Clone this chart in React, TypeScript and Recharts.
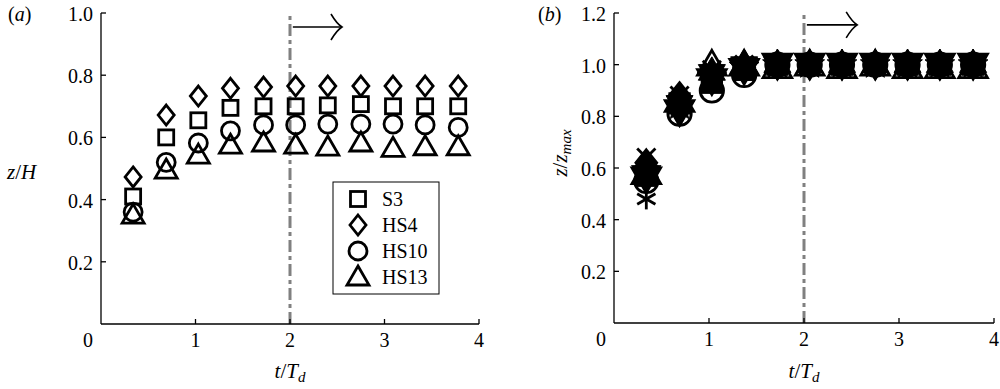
import React from 'react';
import { ScatterChart, Scatter, XAxis, YAxis, ReferenceLine } from 'recharts';

// ---------- data ----------
const tValues = [0.34, 0.69, 1.03, 1.37, 1.72, 2.06, 2.4, 2.75, 3.09, 3.43, 3.78];
const xTicks = [0, 1, 2, 3, 4];
const yTicksA = [0, 0.2, 0.4, 0.6, 0.8, 1.0];
const yTicksB = [0, 0.2, 0.4, 0.6, 0.8, 1.0, 1.2];

const namesA = ['S3', 'HS4', 'HS10', 'HS13'];
const shapesA = ['square', 'diamond', 'circle', 'triangle'];
const s3A = [0.41, 0.6, 0.655, 0.695, 0.7, 0.7, 0.703, 0.707, 0.7, 0.7, 0.7];
const hs4A = [0.473, 0.672, 0.733, 0.758, 0.762, 0.765, 0.765, 0.765, 0.765, 0.765, 0.765];
const hs10A = [0.36, 0.52, 0.582, 0.621, 0.64, 0.64, 0.643, 0.643, 0.643, 0.64, 0.632];
const hs13A = [0.35, 0.495, 0.543, 0.575, 0.582, 0.575, 0.569, 0.582, 0.565, 0.57, 0.57];
const valuesA = [s3A, hs4A, hs10A, hs13A];

const shapesB = ['square', 'diamond', 'circle', 'triangle', 'triangleDown', 'pentagram', 'hexagram', 'cross', 'asterisk'];
const filledB = [true, true, false, false, true, true, true, false, false];
const b1 = [0.57, 0.85, 0.93, 0.98, 1.0, 1.0, 1.0, 1.0, 1.0, 1.0, 1.0];
const b2 = [0.62, 0.88, 0.96, 0.99, 1.0, 1.0, 1.0, 1.0, 1.0, 1.0, 1.0];
const b3 = [0.55, 0.81, 0.9, 0.96, 1.0, 1.0, 1.0, 1.0, 1.0, 1.0, 1.0];
const b4 = [0.58, 0.86, 1.0, 1.0, 0.99, 1.0, 0.99, 1.0, 0.99, 0.99, 0.99];
const b5 = [0.56, 0.82, 0.94, 0.98, 1.0, 1.0, 1.0, 1.0, 1.0, 1.0, 1.0];
const b6 = [0.59, 0.84, 0.95, 0.99, 1.0, 1.0, 1.0, 1.0, 1.0, 1.0, 1.0];
const b7 = [0.57, 0.85, 0.97, 1.0, 1.0, 1.0, 1.0, 1.0, 1.0, 1.0, 1.0];
const b8 = [0.64, 0.88, 0.98, 1.0, 1.0, 1.0, 1.0, 1.0, 1.0, 1.0, 1.0];
const b9 = [0.48, 0.83, 0.95, 0.99, 1.0, 1.0, 1.0, 1.0, 1.0, 1.0, 1.0];
const valuesB = [b1, b2, b3, b4, b5, b6, b7, b8, b9];

const arrowA = [{ x: 2.03, y: 0.955 }, { x: 2.55, y: 0.955 }];
const arrowB = [{ x: 2.03, y: 1.154 }, { x: 2.56, y: 1.154 }];

// ---------- style ----------
const FONT = "'Times New Roman', 'Liberation Serif', Times, serif";
const FS = 20;
const tStyle = { fontFamily: FONT };

const toData = (arr: number[]) => tValues.map((t, i) => ({ t, v: arr[i] }));

function starPoints(cx: number, cy: number, n: number, R: number, r: number) {
  const pts: string[] = [];
  for (let i = 0; i < 2 * n; i++) {
    const ang = -Math.PI / 2 + (i * Math.PI) / n;
    const rad = i % 2 === 0 ? R : r;
    pts.push(`${cx + rad * Math.cos(ang)},${cy + rad * Math.sin(ang)}`);
  }
  return pts.join(' ');
}

function Marker({ shape, cx, cy, filled, k = 1 }: any) {
  const common = { stroke: '#000', strokeWidth: 2.8, fill: filled ? '#000' : 'none' };
  switch (shape) {
    case 'square':
      return <rect x={cx - 7.5 * k} y={cy - 7.5 * k} width={15 * k} height={15 * k} {...common} />;
    case 'diamond':
      return <polygon points={`${cx},${cy - 10 * k} ${cx + 8 * k},${cy} ${cx},${cy + 10 * k} ${cx - 8 * k},${cy}`} {...common} />;
    case 'circle':
      return <circle cx={cx} cy={cy} r={9 * k} {...common} />;
    case 'triangle':
      return <polygon points={`${cx},${cy - 11 * k} ${cx + 11 * k},${cy + 8 * k} ${cx - 11 * k},${cy + 8 * k}`} {...common} />;
    case 'triangleDown':
      return <polygon points={`${cx},${cy + 11 * k} ${cx + 11 * k},${cy - 8 * k} ${cx - 11 * k},${cy - 8 * k}`} {...common} />;
    case 'pentagram':
      return <polygon points={starPoints(cx, cy, 5, 12 * k, 5 * k)} {...common} strokeWidth={1} />;
    case 'hexagram':
      return <polygon points={starPoints(cx, cy, 6, 12 * k, 7 * k)} {...common} strokeWidth={1} />;
    case 'cross':
      return (
        <g stroke="#000" strokeWidth={2.8}>
          <line x1={cx - 7 * k} y1={cy - 7 * k} x2={cx + 7 * k} y2={cy + 7 * k} />
          <line x1={cx - 7 * k} y1={cy + 7 * k} x2={cx + 7 * k} y2={cy - 7 * k} />
        </g>
      );
    case 'asterisk':
      return (
        <g stroke="#000" strokeWidth={2.8}>
          <line x1={cx} y1={cy - 8 * k} x2={cx} y2={cy + 8 * k} />
          <line x1={cx - 7 * k} y1={cy - 4 * k} x2={cx + 7 * k} y2={cy + 4 * k} />
          <line x1={cx - 7 * k} y1={cy + 4 * k} x2={cx + 7 * k} y2={cy - 4 * k} />
        </g>
      );
    default:
      return null;
  }
}

const XTick = (props: any) => {
  const { x, y, payload } = props;
  const v = payload.value;
  return (
    <g>
      {v !== 0 && <line x1={x} y1={y} x2={x} y2={y - 5} stroke="#000" strokeWidth={1.3} />}
      <text x={v === 0 ? x - 13 : x} y={y + 23} textAnchor="middle" style={tStyle} fontSize={FS} fill="#000">
        {v}
      </text>
    </g>
  );
};

const YTick = (props: any) => {
  const { x, y, payload } = props;
  const v = payload.value;
  if (v === 0) return <g />;
  return (
    <g>
      <line x1={x} y1={y} x2={x + 5} y2={y} stroke="#000" strokeWidth={1.3} />
      <text x={x - 8} y={y + 8} textAnchor="end" style={tStyle} fontSize={FS} fill="#000">
        {v.toFixed(1)}
      </text>
    </g>
  );
};

const ArrowShape = (props: any) => {
  const { x1, y1, x2 } = props;
  const y = y1;
  return (
    <g fill="none" stroke="#000" strokeWidth={1.6}>
      <line x1={x1} y1={y} x2={x2} y2={y} />
      <path d={`M ${x2 - 11} ${y - 13} Q ${x2 - 5} ${y - 3} ${x2} ${y} Q ${x2 - 5} ${y + 3} ${x2 - 11} ${y + 13}`} />
    </g>
  );
};

const axisLineStyle = { stroke: '#000', strokeWidth: 1.3 };
const Y_W = 40;
const X_H = 30;

export default function App() {
  return (
    <div style={{ position: 'absolute', left: 0, top: 0, width: 1000, height: 389, background: '#fff' }}>
      <div style={{ position: 'absolute', left: 0, top: 0 }}>
        <ScatterChart width={500} height={389} margin={{ top: 13, right: 21, bottom: 65 - X_H, left: 101 - Y_W }}>
          <XAxis type="number" dataKey="t" domain={[0, 4]} ticks={xTicks} height={X_H} tickSize={0} tickMargin={0}
            tick={XTick} tickLine={false} axisLine={axisLineStyle} allowDataOverflow interval={0} />
          <YAxis type="number" dataKey="v" domain={[0, 1]} ticks={yTicksA} width={Y_W} tickSize={0} tickMargin={0}
            tick={YTick} tickLine={false} axisLine={axisLineStyle} allowDataOverflow interval={0} />
          <ReferenceLine x={2} stroke="#808080" strokeWidth={3} strokeDasharray="12 4 4 4" />
          <ReferenceLine segment={arrowA} shape={ArrowShape} />
          {valuesA.map((arr, i) => (
            <Scatter key={namesA[i]} name={namesA[i]} data={toData(arr)} isAnimationActive={false}
              shape={(p: any) => <Marker shape={shapesA[i]} cx={p.cx} cy={p.cy} filled={false} />} />
          ))}
        </ScatterChart>
      </div>
      <div style={{ position: 'absolute', left: 500, top: 0 }}>
        <ScatterChart width={500} height={389} margin={{ top: 13, right: 6, bottom: 66 - X_H, left: 114 - Y_W }}>
          <XAxis type="number" dataKey="t" domain={[0, 4]} ticks={xTicks} height={X_H} tickSize={0} tickMargin={0}
            tick={XTick} tickLine={false} axisLine={axisLineStyle} allowDataOverflow interval={0} />
          <YAxis type="number" dataKey="v" domain={[0, 1.2]} ticks={yTicksB} width={Y_W} tickSize={0} tickMargin={0}
            tick={YTick} tickLine={false} axisLine={axisLineStyle} allowDataOverflow interval={0} />
          <ReferenceLine x={2} stroke="#808080" strokeWidth={3} strokeDasharray="12 4 4 4" />
          <ReferenceLine segment={arrowB} shape={ArrowShape} />
          {valuesB.map((arr, i) => (
            <Scatter key={shapesB[i]} name={shapesB[i]} data={toData(arr)} isAnimationActive={false}
              shape={(p: any) => <Marker shape={shapesB[i]} cx={p.cx} cy={p.cy} filled={filledB[i]} k={1.3} />} />
          ))}
        </ScatterChart>
      </div>
      <svg width={1000} height={389} style={{ position: 'absolute', left: 0, top: 0, pointerEvents: 'none', fontFamily: FONT }}
        fill="#000">
        <text x={8} y={21} fontSize={FS} style={tStyle}>(<tspan fontStyle="italic">a</tspan>)</text>
        <text x={538} y={21} fontSize={FS} style={tStyle}>(<tspan fontStyle="italic">b</tspan>)</text>
        <text x={7} y={179} fontSize={21} style={tStyle}><tspan fontStyle="italic">z</tspan>/<tspan fontStyle="italic">H</tspan></text>
        <text x={290} y={378} fontSize={21} textAnchor="middle" style={tStyle}>
          <tspan fontStyle="italic">t</tspan>/<tspan fontStyle="italic">T</tspan>
          <tspan fontStyle="italic" fontSize={15} dy={4}>d</tspan>
        </text>
        <text x={804} y={378} fontSize={21} textAnchor="middle" style={tStyle}>
          <tspan fontStyle="italic">t</tspan>/<tspan fontStyle="italic">T</tspan>
          <tspan fontStyle="italic" fontSize={15} dy={4}>d</tspan>
        </text>
        <text x={567} y={153} fontSize={21} textAnchor="middle" transform="rotate(-90 567 153)" style={tStyle}>
          <tspan fontStyle="italic">z</tspan>/<tspan fontStyle="italic">z</tspan>
          <tspan fontStyle="italic" fontSize={15} dy={4}>max</tspan>
        </text>
        {/* legend */}
        <rect x={333} y={182} width={106} height={112} fill="#fff" stroke="#000" strokeWidth={1} />
        {namesA.map((n, i) => (
          <g key={n}>
            <Marker shape={shapesA[i]} cx={358} cy={199 + i * 26} filled={false} />
            <text x={382} y={206 + i * 26} fontSize={FS} style={tStyle}>{n}</text>
          </g>
        ))}
      </svg>
    </div>
  );
}
